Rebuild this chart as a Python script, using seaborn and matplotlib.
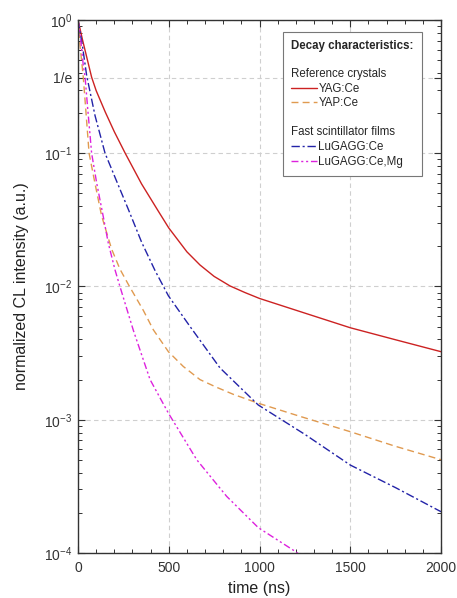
import numpy as np
import pandas as pd
import seaborn as sns
import matplotlib.pyplot as plt
from matplotlib.lines import Line2D
from matplotlib.ticker import FixedLocator, NullFormatter, MultipleLocator, LogLocator

# decay curves (time in ns, normalized intensity)
yag_t = [0, 25, 50, 75, 100, 150, 200, 260, 350, 440, 500, 600, 672, 750, 837, 920, 1000, 1250, 1500, 1750, 2000]
yag_i = [1.0, 0.708, 0.513, 0.372, 0.295, 0.204, 0.145, 0.1, 0.0589, 0.0372, 0.0275, 0.0182, 0.0145, 0.0119,
         0.0101, 0.009, 0.00813, 0.00631, 0.0049, 0.00398, 0.00324]

yap_t = [0, 11, 29, 42, 61, 94, 130, 185, 231, 280, 360, 415, 498, 580, 672, 760, 856, 993, 1223, 1500, 1750, 2000]
yap_i = [1.0, 0.646, 0.372, 0.219, 0.1, 0.0589, 0.0339, 0.0191, 0.0135, 0.0102, 0.00661, 0.00473, 0.00324,
         0.00251, 0.002, 0.00176, 0.00155, 0.00133, 0.00106, 0.000813, 0.000631, 0.000501]

lug_t = [0, 25, 48, 94, 149, 222, 277, 351, 424, 498, 617, 782, 993, 1250, 1500, 1750, 2000]
lug_i = [1.0, 0.631, 0.38, 0.191, 0.1, 0.0575, 0.038, 0.0214, 0.0132, 0.00851, 0.00501, 0.00245, 0.00129,
         0.000776, 0.000457, 0.000309, 0.000204]

lugmg_t = [0, 15, 29, 39, 53, 66, 75, 103, 139, 167, 204, 231, 305, 397, 498, 654, 819, 993, 1186, 1250]
lugmg_i = [1.0, 0.708, 0.457, 0.372, 0.219, 0.138, 0.1, 0.0596, 0.0335, 0.0211, 0.0133, 0.01, 0.00468, 0.002,
           0.00112, 0.000501, 0.000266, 0.000155, 0.000105, 0.0000912]

sns.set_theme(style='ticks')
plt.rcParams['font.family'] = ['Liberation Sans', 'DejaVu Sans']
plt.rcParams['mathtext.fontset'] = 'custom'
plt.rcParams['mathtext.rm'] = 'Liberation Sans'
plt.rcParams['mathtext.it'] = 'Liberation Sans:italic'

fig, ax = plt.subplots(figsize=(4.57, 5.98), dpi=100)
fig.subplots_adjust(left=0.1707, right=0.965, top=0.9666, bottom=0.0753)

curves = [
    (yag_t, yag_i, 'YAG:Ce', '#cc2222', '-'),
    (yap_t, yap_i, 'YAP:Ce', '#e09a50', (0, (5, 3))),
    (lug_t, lug_i, 'LuGAGG:Ce', '#2323a8', (0, (6, 2, 1.5, 2))),
    (lugmg_t, lugmg_i, 'LuGAGG:Ce,Mg', '#dd22dd', (0, (5, 2, 1.5, 2, 1.5, 2))),
]
lines = {}
for t, i, name, col, ls in curves:
    df = pd.DataFrame({'time': t, 'intensity': i})
    sns.lineplot(data=df, x='time', y='intensity', ax=ax, color=col, lw=1.0)
    ln = ax.get_lines()[-1]
    ln.set_linestyle(ls)
    lines[name] = ln

ax.set_yscale('log')
ax.set_xlim(0, 2000)
ax.set_ylim(1e-4, 1)

# axis ticks
ax.xaxis.set_major_locator(MultipleLocator(500))
ax.xaxis.set_minor_locator(MultipleLocator(100))
yt = [1e-4, 1e-3, 1e-2, 1e-1, np.exp(-1), 1]
ax.yaxis.set_major_locator(FixedLocator(yt))
ax.set_yticklabels([r'$\mathregular{10^{-4}}$', r'$\mathregular{10^{-3}}$', r'$\mathregular{10^{-2}}$',
                    r'$\mathregular{10^{-1}}$', '1/e', r'$\mathregular{10^{0}}$'])
ax.yaxis.set_minor_locator(LogLocator(base=10, subs=np.arange(2, 10), numticks=20))
ax.yaxis.set_minor_formatter(NullFormatter())
ax.tick_params(which='both', direction='in', top=True, right=True, color='#333333')
ax.tick_params(which='major', length=5, width=0.8, labelsize=10, colors='#333333')
ax.tick_params(axis='x', which='major', pad=6)
ax.tick_params(axis='y', which='major', pad=4)
ax.tick_params(which='minor', length=3, width=0.7)
for s in ax.spines.values():
    s.set_color('#333333')
    s.set_linewidth(1.0)

ax.grid(which='major', ls=(0, (4, 3)), color='#cfcfcf', lw=0.8)
ax.set_axisbelow(True)

ax.set_xlabel('time (ns)', fontsize=11.5, labelpad=4, color='#222222')
ax.set_ylabel('normalized CL intensity (a.u.)', fontsize=11.5, labelpad=11, color='#222222')

# legend with group headers
blank = Line2D([], [], color='none')
handles = [blank, lines['YAG:Ce'], lines['YAP:Ce'], blank, blank, lines['LuGAGG:Ce'], lines['LuGAGG:Ce,Mg']]
labels = ['Reference crystals', 'YAG:Ce', 'YAP:Ce', ' ', 'Fast scintillator films', 'LuGAGG:Ce', 'LuGAGG:Ce,Mg']
leg = ax.legend(handles, labels, title='Decay characteristics:\n', loc='upper left',
                bbox_to_anchor=(0.5647, 0.978), fontsize=8.3, title_fontproperties={'weight': 'bold', 'size': 8.3},
                alignment='left', frameon=True, fancybox=False, edgecolor='#777777', framealpha=1,
                handlelength=2.2, handletextpad=0.15, labelspacing=0.22, borderpad=0.72, borderaxespad=0)
leg.get_frame().set_linewidth(0.8)
rows = leg._legend_handle_box.get_children()[0].get_children()
for k in [0, 4]:
    rows[k].get_children()[0].width = 0
    rows[k].sep = 0

fig.savefig('out.png', dpi=100)
